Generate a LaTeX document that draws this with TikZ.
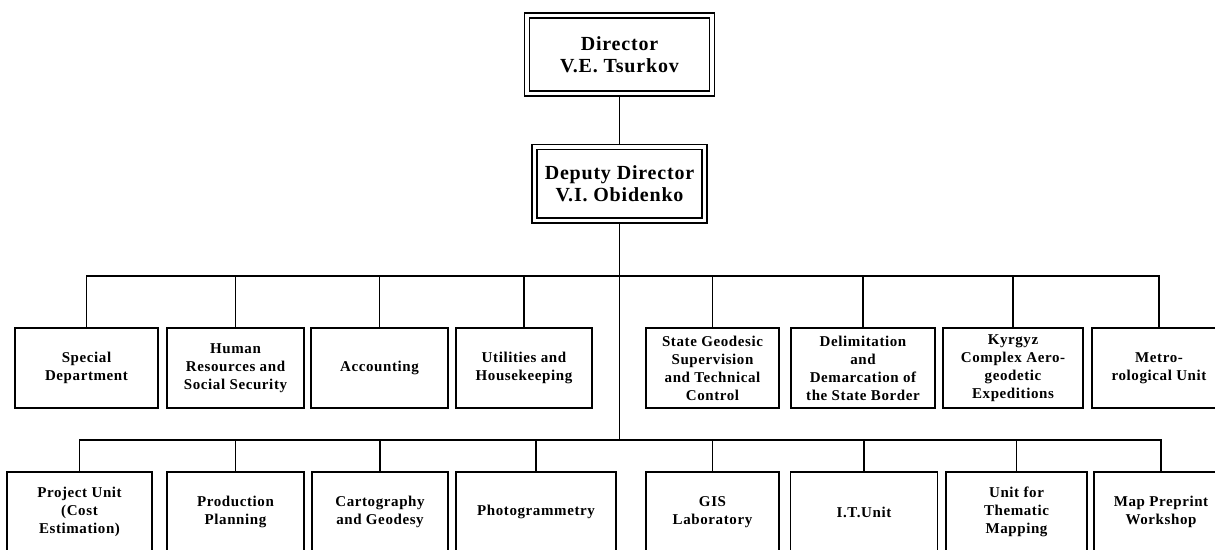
\documentclass[tikz,border=0pt]{standalone}
\usepackage{fontspec}
\setmainfont{Liberation Serif}
\newfontfamily\boxfont{Liberation Serif}[LetterSpace=4]
\usetikzlibrary{backgrounds}
\begin{document}
\begin{tikzpicture}[x=1pt,y=-1pt,
  unitbox/.style={draw, line width=1.6pt, inner sep=0pt, align=center,
    font=\boxfont\bfseries\fontsize{15}{18}\selectfont, minimum height=80pt},
  headbox/.style={draw, double, double distance=3.7pt, line width=1.3pt, inner sep=0pt,
    align=center, font=\boxfont\bfseries\fontsize{20}{22.5}\selectfont},
  conn/.style={line width=1.7pt}]
\useasboundingbox (0,0) rectangle (1215,549);
\clip (0,0) rectangle (1215,549);

\node[headbox, minimum width=184.5pt, minimum height=78pt] (dir) at (619.5,54.5) {Director\\V.E. Tsurkov};
\node[headbox, minimum width=170pt, minimum height=73.5pt] (dep) at (619.5,183.75) {Deputy Director\\V.I. Obidenko};

% top row
\node[unitbox, minimum width=143pt] (t1) at (86.5,368) {Special\\Department};
\node[unitbox, minimum width=137pt] (t2) at (235.5,368) {Human\\Resources and\\Social Security};
\node[unitbox, minimum width=137pt] (t3) at (379.5,368) {Accounting};
\node[unitbox, minimum width=136pt] (t4) at (524,368) {Utilities and\\Housekeeping};
\node[unitbox, minimum width=133pt] (t5) at (712.5,368) {State Geodesic\\Supervision\\and Technical\\Control};
\node[unitbox, minimum width=144pt] (t6) at (863,368) {Delimitation\\and\\Demarcation of\\the State Border};
\node[unitbox, minimum width=140pt] (t7) at (1013,368) {Kyrgyz\\Complex Aero-\\geodetic\\Expeditions};
\node[unitbox, minimum width=134pt] (t8) at (1159,368) {Metro-\\rological Unit};

% bottom row
\node[unitbox, minimum width=145pt] (b1) at (79.5,512) {Project Unit\\(Cost\\Estimation)};
\node[unitbox, minimum width=137pt] (b2) at (235.5,512) {Production\\Planning};
\node[unitbox, minimum width=136pt] (b3) at (380,512) {Cartography\\and Geodesy};
\node[unitbox, minimum width=160pt] (b4) at (536,512) {Photogrammetry};
\node[unitbox, minimum width=133pt] (b5) at (712.5,512) {GIS\\Laboratory};
\node[unitbox, minimum width=147pt] (b6) at (864,512) {I.T.Unit};
\node[unitbox, minimum width=141pt] (b7) at (1016.5,512) {Unit for\\Thematic\\Mapping};
\node[unitbox, minimum width=134pt] (b8) at (1161,512) {Map Preprint\\Workshop};

\coordinate (tj) at (619.5,276);
\coordinate (bj) at (619.5,440);

\begin{scope}[on background layer]
\draw[conn] (dir.south) -- (dep.north);
\draw[conn] (dep.south) -- (bj);
\draw[conn] (t1.north) |- (tj) -| (t8.north);
\foreach \n in {t2,t3,t4,t5,t6,t7} \draw[conn] (\n.north) -- (\n.north |- tj);
\draw[conn] (b1.north) |- (bj) -| (b8.north);
\foreach \n in {b2,b3,b4,b5,b6,b7} \draw[conn] (\n.north) -- (\n.north |- bj);
\end{scope}
\end{tikzpicture}
\end{document}
